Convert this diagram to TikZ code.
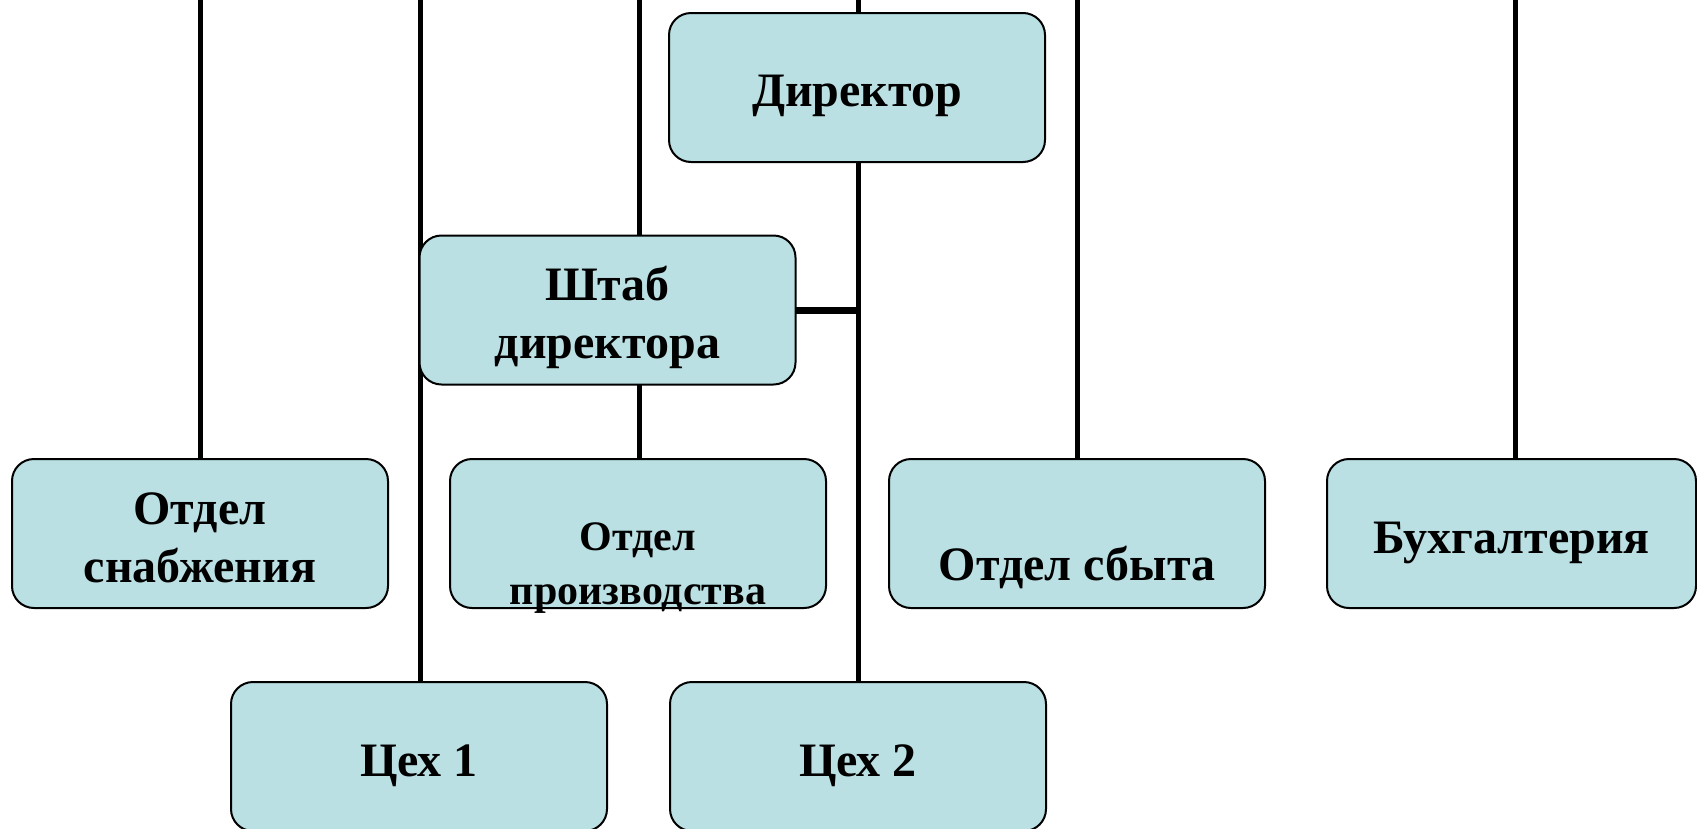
\documentclass[tikz,border=0pt]{standalone}
\usepackage{fontspec}
\setmainfont{Liberation Serif}
\usetikzlibrary{backgrounds}
\definecolor{boxfill}{RGB}{186,224,227}
\tikzset{
  orgbox/.style={draw=black, line width=2pt, fill=boxfill, rounded corners=22pt,
    minimum width=376pt, minimum height=149pt, inner sep=0pt, outer sep=0pt},
  txt/.style={inner sep=0pt, align=center, font=\bfseries\fontsize{48}{58}\selectfont},
  smalltxt/.style={txt, font=\bfseries\fontsize{42}{54}\selectfont},
  wire/.style={line width=5pt, draw=black},
  hwire/.style={line width=7pt, draw=black}
}
\begin{document}
\begin{tikzpicture}[x=1pt, y=-1pt]
\useasboundingbox (0,0) rectangle (1697,828);
\clip (0,0) rectangle (1697,828);
% boxes
\node[orgbox] (dir)    at (857,87.5)   {};
\node[orgbox] (shtab)  at (607.5,310)  {};
\node[orgbox] (snab)   at (200,533.5)  {};
\node[orgbox] (proizv) at (638,533.5)  {};
\node[orgbox] (sbyt)   at (1077,533.5) {};
\node[orgbox, minimum width=369pt] (buh) at (1511.5,533.5) {};
\node[orgbox] (ceh1)   at (419,756.5)  {};
\node[orgbox] (ceh2)   at (858,756.5)  {};
% texts
\node[txt] (dirt)    at ([yshift=-8pt]dir.center)    {Директор};
\node[txt] (shtabt)  at ([yshift=-7pt]shtab.center)  {Штаб\\директора};
\node[txt] (snabt)   at ([yshift=-4pt]snab.center)   {Отдел\\снабжения};
\node[smalltxt] (proizvt) at ([yshift=-35pt]proizv.center) {Отдел\\производства};
\node[txt] (sbytt)   at ([yshift=-34pt]sbyt.center)  {Отдел сбыта};
\node[txt] (buht)    at ([yshift=-9pt]buh.center)    {Бухгалтерия};
\node[txt] (ceh1t)   at ([yshift=-9pt]ceh1.center)   {Цех 1};
\node[txt] (ceh2t)   at ([yshift=-9pt]ceh2.center)   {Цех 2};
% free ends at the top edge
\coordinate (t1) at (200,0);
\coordinate (t2) at (420,0);
\coordinate (t3) at (639,0);
\coordinate (t4) at (858,0);
\coordinate (t5) at (1077,0);
\coordinate (t6) at (1515,0);
\begin{scope}[on background layer]
\draw[wire] (t1) -- (t1 |- snab.north);
\draw[wire] (t2) -- (t2 |- ceh1.north);
\draw[wire] (t3) -- (t3 |- proizv.north);
\draw[wire] (t4) -- (t4 |- dir.north);
\draw[wire] (t4 |- dir.south) -- (t4 |- ceh2.north);
\draw[hwire] (shtab.east) -- (shtab.east -| t4);
\draw[wire] (t5) -- (t5 |- sbyt.north);
\draw[wire] (t6) -- (t6 |- buh.north);
\end{scope}
\end{tikzpicture}
\end{document}
